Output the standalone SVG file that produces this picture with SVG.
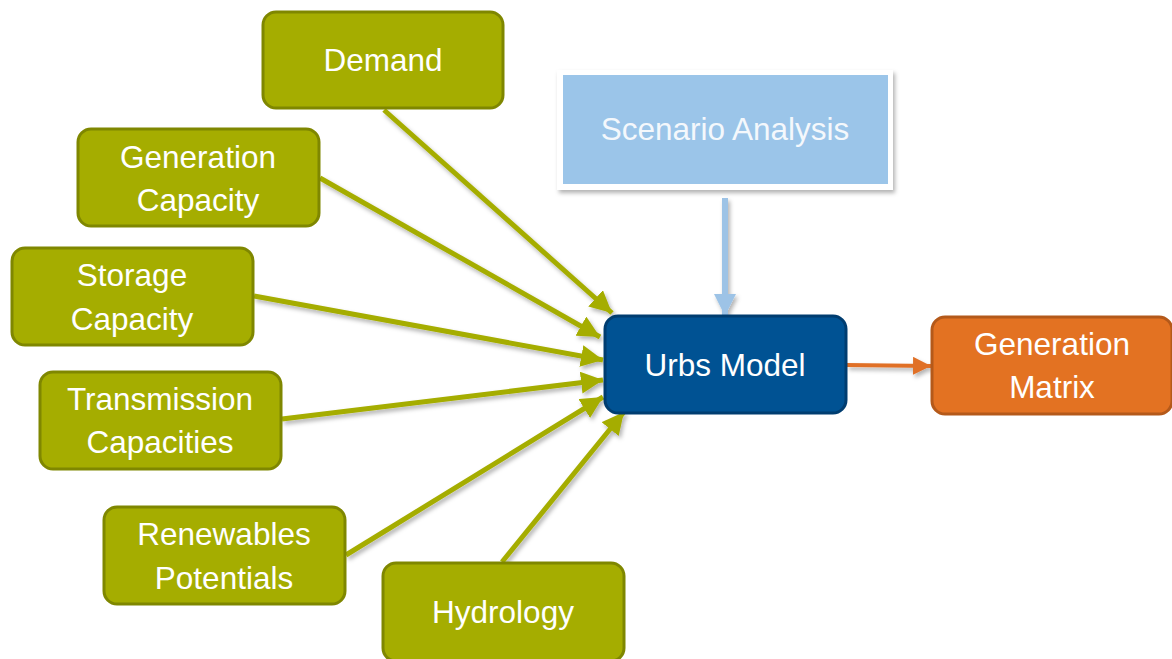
<svg xmlns="http://www.w3.org/2000/svg" width="1172" height="659" viewBox="0 0 1172 659">
  <defs>
    <filter id="shadow" x="-20%" y="-20%" width="140%" height="140%">
      <feDropShadow dx="2" dy="3" stdDeviation="2" flood-color="#000" flood-opacity="0.3"/>
    </filter>
    <marker id="head-green" markerUnits="userSpaceOnUse" markerWidth="24" markerHeight="22" refX="22" refY="11" orient="auto">
      <path d="M0,0 L22,11 L0,22 Z" fill="#a5ad00"/>
    </marker>
    <marker id="head-blue" markerUnits="userSpaceOnUse" markerWidth="24" markerHeight="22" refX="22" refY="11" orient="auto">
      <path d="M0,0 L22,11 L0,22 Z" fill="#9dc3e6"/>
    </marker>
    <marker id="head-orange" markerUnits="userSpaceOnUse" markerWidth="20" markerHeight="18" refX="18" refY="9" orient="auto">
      <path d="M0,0 L18,9 L0,18 Z" fill="#e07028"/>
    </marker>
  </defs>
  <style>
    .input rect { fill: #a5ad00; stroke: #7f8700; stroke-width: 3; }
    .label { font-family: "Liberation Sans", Arial, sans-serif; font-size: 31.5px; fill: #ffffff; text-anchor: middle; }
    .link { fill: none; stroke-linecap: butt; }
    .green { stroke: #a5ad00; stroke-width: 5; marker-end: url(#head-green); }
  </style>

  <rect width="1172" height="659" fill="#ffffff"/>

  <!-- connectors -->
  <g id="connectors" filter="url(#shadow)">
    <line class="link green" x1="384" y1="110" x2="612" y2="313"/>
    <line class="link green" x1="320" y1="178" x2="600" y2="337"/>
    <line class="link green" x1="254" y1="296" x2="603" y2="360"/>
    <line class="link green" x1="282" y1="419" x2="603" y2="380"/>
    <line class="link green" x1="346" y1="555" x2="603" y2="397"/>
    <line class="link green" x1="502" y1="562" x2="624" y2="412"/>
    <line class="link" x1="725" y1="198" x2="725" y2="316" stroke="#9dc3e6" stroke-width="6" marker-end="url(#head-blue)"/>
    <line class="link" x1="847" y1="365" x2="931" y2="366" stroke="#e07028" stroke-width="4" marker-end="url(#head-orange)"/>
  </g>

  <!-- input nodes -->
  <g id="demand" class="input">
    <rect x="263" y="12" width="240" height="96" rx="13"/>
    <text class="label" x="383" y="71">Demand</text>
  </g>
  <g id="generation-capacity" class="input">
    <rect x="78" y="129" width="241" height="97" rx="13"/>
    <text class="label" x="198" y="168">Generation</text>
    <text class="label" x="198" y="211">Capacity</text>
  </g>
  <g id="storage-capacity" class="input">
    <rect x="12" y="248" width="241" height="97" rx="13"/>
    <text class="label" x="132" y="286">Storage</text>
    <text class="label" x="132" y="330">Capacity</text>
  </g>
  <g id="transmission-capacities" class="input">
    <rect x="40" y="372" width="241" height="97" rx="13"/>
    <text class="label" x="160" y="410">Transmission</text>
    <text class="label" x="160" y="453">Capacities</text>
  </g>
  <g id="renewables-potentials" class="input">
    <rect x="104" y="507" width="241" height="97" rx="13"/>
    <text class="label" x="224" y="545">Renewables</text>
    <text class="label" x="224" y="589">Potentials</text>
  </g>
  <g id="hydrology" class="input">
    <rect x="383" y="563" width="241" height="98" rx="13"/>
    <text class="label" x="503" y="623">Hydrology</text>
  </g>

  <!-- scenario analysis -->
  <g id="scenario-analysis">
    <rect x="557" y="70" width="336" height="120" fill="#ffffff" filter="url(#shadow)"/>
    <rect x="563" y="75" width="325" height="109" fill="#9bc5e9"/>
    <text class="label" x="725" y="140" fill="#f4f8fc" style="fill:#f4f8fc">Scenario Analysis</text>
  </g>

  <!-- model -->
  <g id="urbs-model">
    <rect x="605" y="316" width="241" height="97" rx="13" fill="#005293" stroke="#003d70" stroke-width="3"/>
    <text class="label" x="725" y="376">Urbs Model</text>
  </g>

  <!-- output -->
  <g id="generation-matrix">
    <rect x="932" y="317" width="240" height="97" rx="13" fill="#e37222" stroke="#b4591a" stroke-width="3"/>
    <text class="label" x="1052" y="355">Generation</text>
    <text class="label" x="1052" y="398">Matrix</text>
  </g>
</svg>
